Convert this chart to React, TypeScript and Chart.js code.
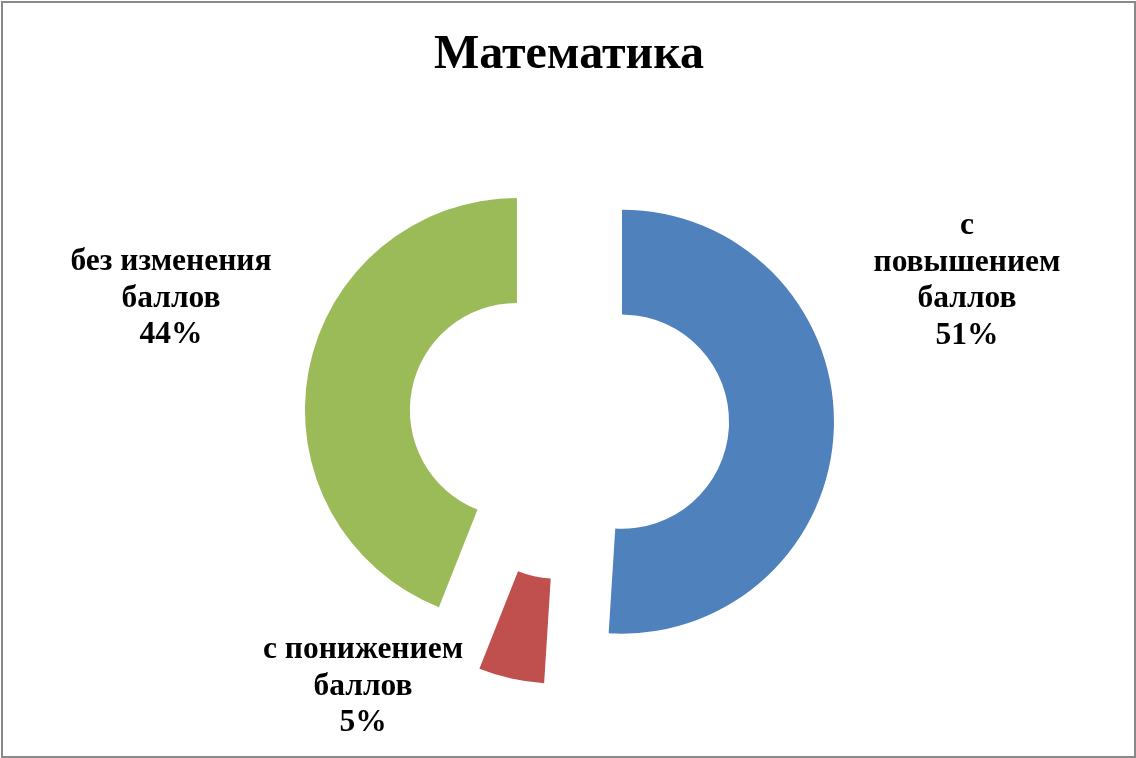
import React, { useEffect, useRef } from "react";
import { Chart, registerables } from "chart.js";

Chart.register(...registerables);

const TITLE = "Математика";
const categories = ["с повышением баллов", "с понижением баллов", "без изменения баллов"];
const labelLines = [
  ["с", "повышением", "баллов"],
  ["с понижением", "баллов"],
  ["без изменения", "баллов"],
];
const values = [51, 5, 44];
const colors = ["#4F81BD", "#C0504D", "#9BBB59"];

// styling / layout constants
const EXPLODE = 53;
const LABEL_FONT = "bold 31.5px 'Liberation Serif', 'Times New Roman', serif";
const LINE_H = 36.5;
// first-line baseline offsets from the chart centre
const LABEL_OFFSETS = [
  [398, -186],
  [-206, 238],
  [-398, -150],
];

const explodePlugin = {
  id: "explode",
  beforeDatasetDraw(chart: any, args: any) {
    const ctx = chart.ctx;
    args.meta.data.forEach((arc: any) => {
      const { startAngle, endAngle } = arc.getProps(["startAngle", "endAngle"], true);
      const mid = (startAngle + endAngle) / 2;
      ctx.save();
      ctx.translate(Math.cos(mid) * EXPLODE, Math.sin(mid) * EXPLODE);
      arc.draw(ctx, chart.chartArea);
      ctx.restore();
    });
    return false;
  },
};

const labelPlugin = {
  id: "sliceLabels",
  afterDatasetsDraw(chart: any) {
    const ctx = chart.ctx;
    const meta = chart.getDatasetMeta(0);
    const data = chart.data.datasets[0].data as number[];
    const total = data.reduce((a, b) => a + b, 0);
    ctx.save();
    ctx.font = LABEL_FONT;
    ctx.fillStyle = "#000";
    ctx.textAlign = "center";
    ctx.textBaseline = "alphabetic";
    meta.data.forEach((arc: any, i: number) => {
      const cx = arc.x + LABEL_OFFSETS[i][0];
      let y = arc.y + LABEL_OFFSETS[i][1];
      const lines = [...labelLines[i], `${Math.round((data[i] / total) * 100)}%`];
      lines.forEach((t) => {
        ctx.fillText(t, cx, y);
        y += LINE_H;
      });
    });
    ctx.restore();
  },
};

const borderPlugin = {
  id: "frame",
  beforeDraw(chart: any) {
    const ctx = chart.ctx;
    ctx.save();
    ctx.fillStyle = "#fff";
    ctx.fillRect(0, 0, chart.width, chart.height);
    ctx.strokeStyle = "#898989";
    ctx.lineWidth = 2;
    ctx.strokeRect(2, 2, chart.width - 3, chart.height - 3);
    ctx.restore();
  },
};

export default function App() {
  const ref = useRef<HTMLCanvasElement | null>(null);
  useEffect(() => {
    if (!ref.current) return;
    const chart = new Chart(ref.current, {
      type: "doughnut",
      data: {
        labels: categories,
        datasets: [
          {
            data: values,
            backgroundColor: colors,
            borderWidth: 0,
            offset: 0,
          },
        ],
      },
      options: {
        responsive: false,
        animation: false,
        radius: 212,
        cutout: "50.5%",
        layout: { padding: { left: 2, right: 0, top: 0, bottom: 6.6 } },
        plugins: {
          legend: { display: false },
          tooltip: { enabled: false },
          title: {
            display: true,
            text: TITLE,
            color: "#000",
            font: { family: "'Liberation Serif', 'Times New Roman', serif", size: 48, weight: "bold" },
            padding: { top: 27, bottom: 4 },
          },
        },
      } as any,
      plugins: [borderPlugin, explodePlugin, labelPlugin],
    });
    return () => chart.destroy();
  }, []);
  return (
    <div style={{ position: "absolute", left: 0, top: 0, width: 1136, height: 758 }}>
      <canvas ref={ref} width={1136} height={758} style={{ display: "block" }} />
    </div>
  );
}
